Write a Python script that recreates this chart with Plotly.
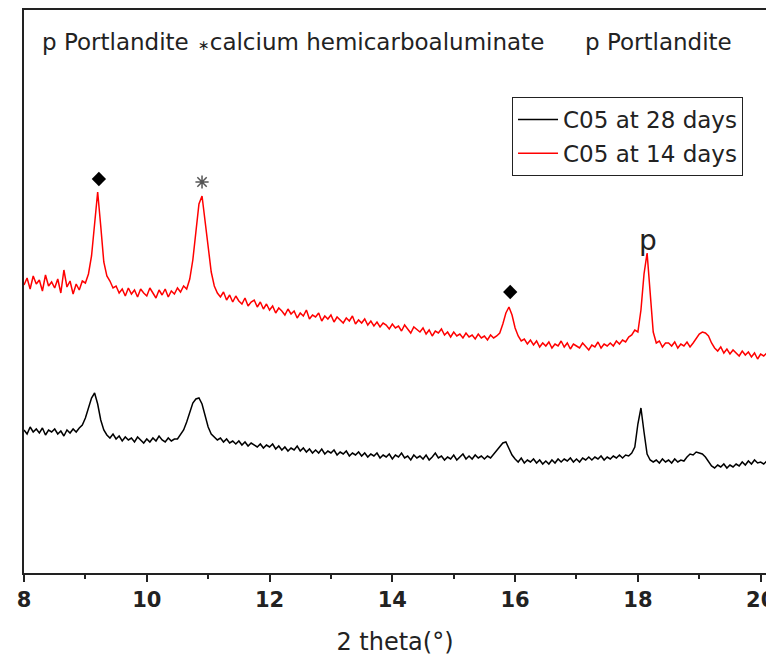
import numpy as np
import plotly.graph_objects as go

# 2-theta grid (degrees), 0.05 deg step
two_theta = np.round(np.arange(8.0, 20.1001, 0.05), 2)

# Intensity (a.u.), C05 cured 14 days (offset pattern)
c05_14d = [
    287, 294, 283, 296, 288, 292, 281, 297, 286, 290,
    284, 293, 279, 302, 285, 291, 278, 288, 282, 291,
    289, 298, 316, 351, 380, 346, 310, 296, 291, 284,
    286, 279, 283, 276, 284, 278, 282, 275, 283, 279,
    276, 284, 279, 274, 282, 277, 283, 275, 281, 278,
    284, 280, 286, 283, 293, 312, 340, 368, 376, 350,
    322, 300, 286, 279, 275, 280, 272, 277, 270, 276,
    271, 268, 274, 266, 270, 272, 265, 270, 263, 268,
    262, 266, 259, 264, 261, 257, 263, 258, 261, 254,
    259, 256, 262, 253, 257, 255, 259, 251, 256, 253,
    257, 250, 255, 252, 249, 254, 251, 256, 248, 252,
    249, 253, 247, 251, 246, 250, 245, 249, 247, 243,
    248, 244, 246, 241, 247, 243, 239, 245, 242, 240,
    244, 238, 242, 236, 241, 239, 243, 237, 240, 235,
    240, 236, 238, 234, 239, 235, 237, 233, 238, 234,
    236, 232, 237, 234, 236, 239, 248, 259, 265, 257,
    244, 236, 231, 233, 228, 232, 227, 231, 225, 229,
    226, 230, 224, 228, 226, 231, 225, 229, 223, 228,
    226, 224, 229, 226, 222, 227, 225, 230, 224, 228,
    226, 229, 226, 231, 228, 232, 230, 235, 237, 242,
    240, 262, 298, 319, 280, 240, 229, 231, 225, 229,
    229, 226, 230, 224, 228, 226, 230, 225, 229, 233,
    238, 240, 239, 236, 229, 224, 221, 225, 219, 223,
    218, 222, 219, 216, 221, 217, 220, 215, 219, 213,
    218, 216, 219,
]

# Intensity (a.u.), C05 cured 28 days
c05_28d = [
    142, 138, 145, 140, 143, 139, 144, 137, 142, 140,
    143, 138, 141, 136, 142, 139, 143, 140, 144, 147,
    154, 164, 174, 179, 168, 152, 142, 137, 134, 138,
    133, 136, 131, 135, 132, 134, 130, 135, 132, 129,
    133, 130, 134, 131, 136, 132, 130, 134, 131, 133,
    133, 137, 142, 150, 160, 169, 173, 174, 168, 156,
    145, 138, 135, 132, 134, 130, 133, 129, 131, 128,
    131, 127, 130, 126, 129, 127, 125, 128, 124, 127,
    125, 128, 123, 126, 122, 125, 121, 124, 122, 126,
    121, 124, 120, 123, 119, 122, 119, 123, 118, 121,
    119, 122, 117, 120, 118, 121, 116, 119, 117, 120,
    116, 119, 115, 118, 116, 119, 114, 117, 115, 118,
    113, 117, 115, 119, 114, 116, 112, 117, 114, 116,
    113, 117, 112, 115, 119, 114, 116, 112, 115, 113,
    117, 112, 115, 118, 113, 116, 113, 117, 114, 116,
    113, 116, 114, 118, 121, 125, 129, 130, 124, 117,
    113, 110, 114, 109, 112, 110, 113, 109, 112, 108,
    111, 108, 112, 109, 113, 110, 113, 111, 114, 110,
    113, 110, 114, 112, 115, 112, 115, 113, 116, 112,
    115, 113, 116, 114, 117, 114, 117, 116, 119, 125,
    148, 164, 140, 118, 112, 110, 112, 109, 113, 110,
    112, 109, 113, 110, 112, 111, 115, 118, 117, 120,
    119, 118, 115, 110, 106, 104, 107, 105, 108, 104,
    107, 105, 108, 106, 110, 107, 111, 108, 112, 109,
    110, 108, 111,
]

# Phase identification marks above the 14-day pattern
diamond_x = [9.22, 15.92]
diamond_y = [393, 280]
hemicarbo_x = [10.90]
hemicarbo_y = [390]
portlandite_x = [18.16]
portlandite_y = [332]

FONT = "DejaVu Sans"
INK = "#222222"

fig = go.Figure()

fig.add_trace(go.Scatter(
    x=two_theta, y=c05_28d, mode="lines", name="C05 at 28 days",
    line=dict(color="#000000", width=1.5), legendgroup="a",
))
fig.add_trace(go.Scatter(
    x=two_theta, y=c05_14d, mode="lines", name="C05 at 14 days",
    line=dict(color="#ff0000", width=1.5), legendgroup="b",
))

fig.add_trace(go.Scatter(
    x=diamond_x, y=diamond_y, mode="markers", showlegend=False,
    marker=dict(symbol="diamond", size=11, color="#000000"),
))
fig.add_trace(go.Scatter(
    x=hemicarbo_x, y=hemicarbo_y, mode="markers", showlegend=False,
    marker=dict(symbol="asterisk-open", size=11, color="#555555",
                line=dict(color="#555555", width=1.5)),
))

for px_, py_ in zip(portlandite_x, portlandite_y):
    fig.add_annotation(x=px_, y=py_, text="p", showarrow=False,
                       xanchor="center", yanchor="middle",
                       font=dict(family=FONT, size=28, color=INK))

# Phase key along the top of the frame
key_items = [
    (8.26, "p Portlandite"),
    (10.80, "<span style='font-size:14px'>∗</span>calcium hemicarboaluminate"),
    (17.11, "p Portlandite"),
]
for kx, ktxt in key_items:
    fig.add_annotation(x=kx, y=530, text=ktxt, showarrow=False,
                       xanchor="left", yanchor="middle",
                       font=dict(family=FONT, size=23, color=INK))

fig.update_layout(
    template="none",
    width=766, height=665,
    margin=dict(l=24, r=0, t=10, b=92, autoexpand=False),
    paper_bgcolor="white", plot_bgcolor="white",
    font=dict(family=FONT, color=INK),
    legend=dict(
        x=0.6577, y=0.8455, xanchor="left", yanchor="top",
        bordercolor="#222222", borderwidth=1, bgcolor="white",
        font=dict(family=FONT, size=23, color=INK),
        tracegroupgap=1, itemwidth=40,
    ),
)

fig.update_xaxes(
    automargin=False,
    range=[8, 20.087],
    tickmode="array", tickvals=[8, 10, 12, 14, 16, 18, 20],
    ticks="outside", ticklen=7, tickwidth=1.5, tickcolor=INK,
    minor=dict(tickmode="array", tickvals=[9, 11, 13, 15, 17, 19],
               ticks="outside", ticklen=4, tickwidth=1.5, tickcolor=INK),
    showline=True, linewidth=1.5, linecolor=INK, mirror=True,
    showgrid=False, zeroline=False,
    tickfont=dict(family=FONT, size=21, color=INK, weight="bold"),
    ticklabeloverflow="allow",
    title=dict(text="2 theta(°)", font=dict(family=FONT, size=24, color=INK),
               standoff=22),
)
fig.update_yaxes(
    automargin=False,
    range=[-1, 562],
    showline=True, linewidth=1.5, linecolor=INK, mirror=False,
    showticklabels=False, ticks="", showgrid=False, zeroline=False,
)

fig.write_html("out.html")
